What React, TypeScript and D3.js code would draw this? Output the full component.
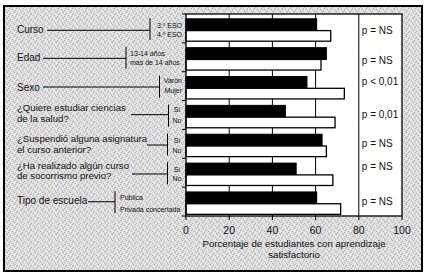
import React from "react";
import * as d3 from "d3";

const categories = [
  "Curso",
  "Edad",
  "Sexo",
  "Ciencias",
  "Suspendió",
  "Socorrismo",
  "Escuela",
];
const mainLabels: string[][] = [
  ["Curso"],
  ["Edad"],
  ["Sexo"],
  ["¿Quiere estudiar ciencias", "de la salud?"],
  ["¿Suspendió alguna asignatura", "el curso anterior?"],
  ["¿Ha realizado algún curso", "de socorrismo previo?"],
  ["Tipo de escuela"],
];
const subLabels: string[][] = [
  ["3.º ESO", "4.º ESO"],
  ["13-14 años", "más de 14 años"],
  ["Varón", "Mujer"],
  ["Sí", "No"],
  ["Sí", "No"],
  ["Sí", "No"],
  ["Pública", "Privada concertada"],
];
const blackValues = [60.5, 65, 56, 46, 63, 51, 60.5];
const whiteValues = [67, 62.5, 73.3, 69, 65, 68, 71.6];
const pLabels = ["p = NS", "p = NS", "p < 0,01", "p = 0,01", "p = NS", "p = NS", "p = NS"];
const xTicks = [0, 20, 40, 60, 80, 100];
const axisTitle = ["Porcentaje de estudiantes con aprendizaje", "satisfactorio"];

// layout (not data)
const bracketX = [150, 126, 159.5, 168.5, 167.5, 167.5, 115];
const lineStartX = [47, 43, 43, 131, 147, 132, 88];
const subAnchor = ["end", "start", "end", "middle", "middle", "middle", "start"];
const subX = [182, 130, 182, 177, 177, 177, 120];
const mainDy = [
  [18.5],
  [18.6],
  [19],
  [10.6, 21.2],
  [12.6, 23.2],
  [10.6, 21.2],
  [17],
];
const subDy = [
  [14, 23],
  [13.4, 22.4],
  [11.6, 21.3],
  [11.6, 22],
  [13.4, 23.6],
  [14.2, 23.2],
  [13, 24.4],
];
const hLineDy = [16.3, 15.5, 15.3, 14.1, 15.6, 15.7, 14.6];
const pDy = [20, 21, 13.5, 17.5, 17.8, 12.2, 17.8];

// stipple texture pixels inside a 7x6 tile
const stipDark = [[0, 0], [3, 1], [5, 3], [1, 4], [6, 5], [2, 2]];
const stipLight = [[4, 0], [1, 1], [6, 2], [3, 4], [0, 3], [5, 5]];

const FONT = "'Liberation Sans', Arial, sans-serif";

export default function App() {
  const W = 427;
  const H = 274;
  const left = 186;
  const right = 402;
  const top = 14;
  const bottom = 216;

  const x = d3.scaleLinear().domain([0, 100]).range([left, right]);
  const y = d3.scaleBand<string>().domain(categories).range([top, bottom]);

  return (
    <svg
      width={W}
      height={H}
      style={{ position: "absolute", left: 0, top: 0, display: "block" }}
      fontFamily={FONT}
    >
      <defs>
        <pattern id="dots" width="7" height="6" patternUnits="userSpaceOnUse">
          <rect width="7" height="6" fill="#dcdcdc" />
          {stipDark.map(([px, py], k) => (
            <rect key={"d" + k} x={px} y={py} width={1} height={1} fill="#b0b0b0" />
          ))}
          {stipLight.map(([px, py], k) => (
            <rect key={"l" + k} x={px} y={py} width={1} height={1} fill="#efefef" />
          ))}
        </pattern>
      </defs>
      <rect x={0} y={0} width={W} height={H} fill="#fff" />
      <rect x={4} y={6} width={418} height={265} fill="url(#dots)" stroke="#000" strokeWidth={2} />

      {/* plot area */}
      <rect x={left} y={top} width={right - left} height={bottom - top} fill="#fff" />

      {/* gridlines */}
      {xTicks.slice(1, 5).map((t) => (
        <line key={t} x1={x(t)} x2={x(t)} y1={top} y2={bottom} stroke="#000" strokeWidth={1} />
      ))}

      {/* bars */}
      {categories.map((c, i) => {
        const g = y(c)!;
        return (
          <g key={c}>
            <rect
              x={x(0)}
              y={g + 4.8}
              width={x(blackValues[i]) - x(0)}
              height={11.8}
              fill="#000"
              stroke="#000"
              strokeWidth={1}
            />
            <rect
              x={x(0)}
              y={g + 16.6}
              width={x(whiteValues[i]) - x(0)}
              height={10.6}
              fill="#fff"
              stroke="#000"
              strokeWidth={1.3}
            />
          </g>
        );
      })}

      {/* frame of plot */}
      <rect x={left} y={top} width={right - left} height={bottom - top} fill="none" stroke="#000" strokeWidth={1.3} />

      {/* left ticks at band boundaries */}
      {categories.concat(["__end"]).map((c, i) => {
        const yy = i < categories.length ? y(c)! : bottom;
        return <line key={"lt" + i} x1={left - 4} x2={left} y1={yy} y2={yy} stroke="#000" strokeWidth={1} />;
      })}

      {/* bottom ticks & labels */}
      {xTicks.map((t) => (
        <g key={"xt" + t}>
          <line x1={x(t)} x2={x(t)} y1={bottom} y2={bottom + 4} stroke="#000" strokeWidth={1} />
          <text x={x(t)} y={bottom + 17.5} textAnchor="middle" fontSize={10.5} fill="#111">
            {t}
          </text>
        </g>
      ))}
      <text x={(left + right) / 2} y={246.5} textAnchor="middle" fontSize={9.7} fill="#111">
        {axisTitle[0]}
      </text>
      <text x={(left + right) / 2} y={258} textAnchor="middle" fontSize={9.7} fill="#111">
        {axisTitle[1]}
      </text>

      {/* p labels */}
      {categories.map((c, i) => (
        <text key={"p" + i} x={x(80) + 3} y={y(c)! + pDy[i]} fontSize={10} fill="#111">
          {pLabels[i]}
        </text>
      ))}

      {/* left labels and brackets */}
      {categories.map((c, i) => {
        const g = y(c)!;
        const two = mainLabels[i].length > 1;
        return (
          <g key={"lab" + i}>
            {mainLabels[i].map((s, j) => (
              <text key={j} x={17} y={g + mainDy[i][j]} fontSize={two ? 9.6 : 10} fill="#111">
                {s}
              </text>
            ))}
            <line
              x1={lineStartX[i]}
              x2={bracketX[i]}
              y1={g + hLineDy[i]}
              y2={g + hLineDy[i]}
              stroke="#000"
              strokeWidth={1}
            />
            <line x1={bracketX[i]} x2={bracketX[i]} y1={g + 4} y2={g + 26} stroke="#000" strokeWidth={1} />
            {subLabels[i].map((s, j) => (
              <text
                key={"s" + j}
                x={subX[i]}
                y={g + subDy[i][j]}
                fontSize={7}
                textAnchor={subAnchor[i] as any}
                fill="#111"
              >
                {s}
              </text>
            ))}
          </g>
        );
      })}
    </svg>
  );
}
